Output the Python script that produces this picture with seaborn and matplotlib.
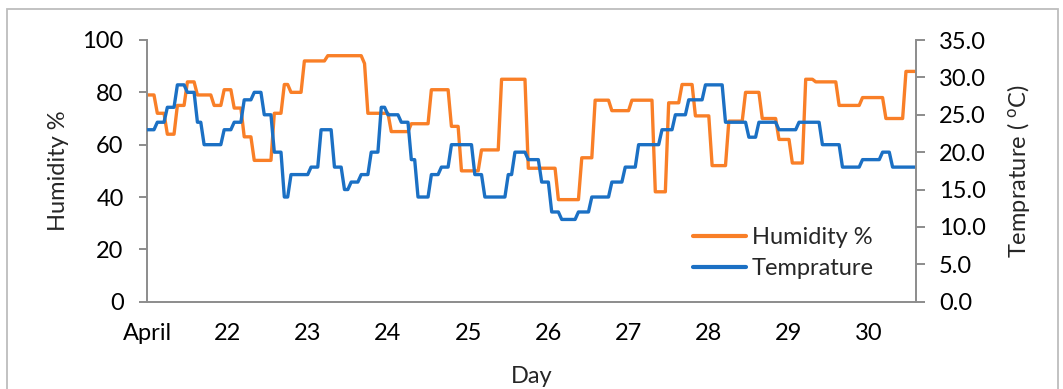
import numpy as np
import pandas as pd
import matplotlib
matplotlib.use("Agg")
import matplotlib.pyplot as plt
import seaborn as sns
from matplotlib.lines import Line2D
from matplotlib.patches import Rectangle

# Hourly readings, 21 April 00:00 onwards (one row per day)
humidity = [
    79, 79, 79, 72, 72, 72, 64, 64, 64, 75, 75, 75, 84, 84, 84, 79, 79, 79, 79, 79, 75, 75, 75, 81,
    81, 81, 74, 74, 74, 63, 63, 63, 54, 54, 54, 54, 54, 54, 72, 72, 72, 83, 83, 80, 80, 80, 80, 92,
    92, 92, 92, 92, 92, 92, 94, 94, 94, 94, 94, 94, 94, 94, 94, 94, 94, 91, 72, 72, 72, 72, 72, 72,
    72, 65, 65, 65, 65, 65, 65, 68, 68, 68, 68, 68, 68, 81, 81, 81, 81, 81, 81, 67, 67, 67, 50, 50,
    50, 50, 50, 50, 58, 58, 58, 58, 58, 58, 85, 85, 85, 85, 85, 85, 85, 85, 51, 51, 51, 51, 51, 51,
    51, 51, 51, 39, 39, 39, 39, 39, 39, 39, 55, 55, 55, 55, 77, 77, 77, 77, 77, 73, 73, 73, 73, 73,
    73, 77, 77, 77, 77, 77, 77, 77, 42, 42, 42, 42, 76, 76, 76, 76, 83, 83, 83, 83, 71, 71, 71, 71,
    71, 52, 52, 52, 52, 52, 69, 69, 69, 69, 69, 80, 80, 80, 80, 80, 70, 70, 70, 70, 70, 62, 62, 62,
    62, 53, 53, 53, 53, 85, 85, 85, 84, 84, 84, 84, 84, 84, 84, 75, 75, 75, 75, 75, 75, 75, 78, 78,
    78, 78, 78, 78, 78, 70, 70, 70, 70, 70, 70, 88, 88, 88, 88,
]
temperature = [
    23, 23, 23, 24, 24, 24, 26, 26, 26, 29, 29, 29, 28, 28, 28, 24, 24, 21, 21, 21, 21, 21, 21, 23,
    23, 23, 24, 24, 24, 27, 27, 27, 28, 28, 28, 25, 25, 25, 20, 20, 20, 14, 14, 17, 17, 17, 17, 17,
    17, 18, 18, 18, 23, 23, 23, 23, 18, 18, 18, 15, 15, 16, 16, 16, 17, 17, 17, 20, 20, 20, 26, 26,
    25, 25, 25, 25, 24, 24, 24, 19, 19, 14, 14, 14, 14, 17, 17, 17, 18, 18, 18, 21, 21, 21, 21, 21,
    21, 21, 17, 17, 17, 14, 14, 14, 14, 14, 14, 14, 17, 17, 20, 20, 20, 20, 19, 19, 19, 19, 16, 16,
    16, 12, 12, 12, 11, 11, 11, 11, 11, 12, 12, 12, 12, 14, 14, 14, 14, 14, 14, 16, 16, 16, 16, 18,
    18, 18, 18, 21, 21, 21, 21, 21, 21, 21, 23, 23, 23, 23, 25, 25, 25, 25, 27, 27, 27, 27, 27, 29,
    29, 29, 29, 29, 29, 24, 24, 24, 24, 24, 24, 24, 22, 22, 22, 24, 24, 24, 24, 24, 24, 23, 23, 23,
    23, 23, 23, 24, 24, 24, 24, 24, 24, 24, 21, 21, 21, 21, 21, 21, 18, 18, 18, 18, 18, 18, 19, 19,
    19, 19, 19, 19, 20, 20, 20, 18, 18, 18, 18, 18, 18, 18, 18,
]
day_labels = ["April", "22", "23", "24", "25", "26", "27", "28", "29", "30"]
hours_per_day = 24

ORANGE = "#F97F27"
BLUE = "#1B70C4"
AXIS_GREY = "#8C8C8C"

sns.set_theme(style="white")
plt.rcParams["font.family"] = ["Lato", "DejaVu Sans"]
plt.rcParams["font.size"] = 17

df = pd.DataFrame({
    "hour": np.arange(len(humidity)),
    "Humidity %": humidity,
    "Temprature": temperature,
})

fig = plt.figure(figsize=(10.63, 3.89), dpi=100)
ax = fig.add_axes([147.3 / 1063, 87.3 / 389, 768.7 / 1063, 261.7 / 389])
ax2 = ax.twinx()

sns.lineplot(data=df, x="hour", y="Humidity %", ax=ax, color=ORANGE, lw=2.4, legend=False)
sns.lineplot(data=df, x="hour", y="Temprature", ax=ax2, color=BLUE, lw=2.4, legend=False)

ax.set_xlim(0, len(humidity) - 1)
ax.set_ylim(0, 100)
ax2.set_ylim(0, 35)

ax.set_xticks(np.arange(len(day_labels)) * hours_per_day)
ax.set_xticklabels(day_labels)
ax.set_yticks(np.arange(0, 101, 20))
ax2.set_yticks(np.arange(0, 35.1, 5))
ax2.set_yticklabels([f"{v:.1f}" for v in np.arange(0, 35.1, 5)])

for a in (ax, ax2):
    for s in a.spines.values():
        s.set_visible(False)
ax.spines["left"].set_visible(True)
ax.spines["bottom"].set_visible(True)
ax2.spines["right"].set_visible(True)
for s in (ax.spines["left"], ax.spines["bottom"], ax2.spines["right"]):
    s.set_color(AXIS_GREY)
    s.set_linewidth(1.4)

ax.tick_params(axis="x", length=0, pad=15, labelsize=17, colors="black")
ax.tick_params(axis="y", direction="out", length=6, width=1.4, color=AXIS_GREY,
               pad=11, labelsize=17, labelcolor="black", left=True)
ax2.tick_params(axis="y", direction="out", length=6.5, width=1.4, color=AXIS_GREY,
                pad=10, labelsize=17, labelcolor="black", right=True)

ax.set_xlabel("Day", fontsize=17, labelpad=16)
ax.set_ylabel("Humidity %", fontsize=17, labelpad=10)
ax2.set_ylabel("Temprature ( $\\mathregular{^{o}}$C)", fontsize=17, labelpad=14)

handles = [
    Line2D([], [], color=ORANGE, lw=3),
    Line2D([], [], color=BLUE, lw=3),
]
fig.legend(handles, ["Humidity %", "Temprature"], loc="upper left",
           bbox_to_anchor=(693 / 1063, 1 - 227 / 389), frameon=False,
           borderpad=0, borderaxespad=0, handlelength=2.25, handletextpad=0.25,
           labelspacing=0.42, fontsize=17)

fig.patches.append(Rectangle((7 / 1063, -0.1), 1051 / 1063, 1.1 - 9 / 389,
                             transform=fig.transFigure, fill=False,
                             edgecolor="#BDBDBD", lw=1.3, clip_on=False))

fig.savefig("out.png", dpi=100)
